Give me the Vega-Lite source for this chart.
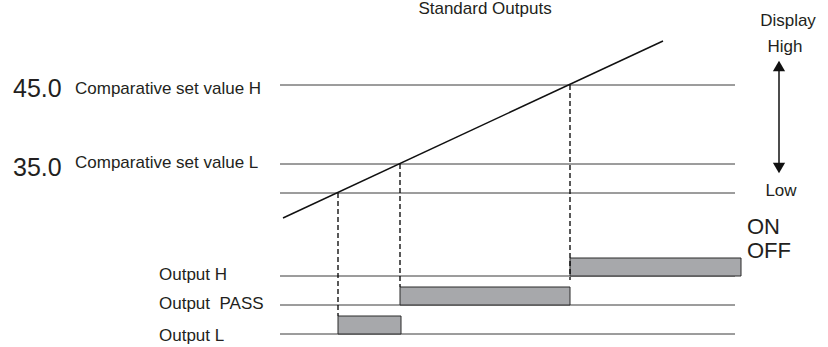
{
  "$schema": "https://vega.github.io/schema/vega-lite/v6.json",
  "width": 828,
  "height": 347,
  "autosize": {"type": "none"},
  "padding": 0,
  "background": "white",
  "config": {"view": {"stroke": null}, "text": {"font": "Liberation Sans", "color": "#231f20"}},
  "datasets": {
    "levels": [
      {"name": "Comparative set value H", "x1": 280, "x2": 735, "y": 85},
      {"name": "Comparative set value L", "x1": 280, "x2": 735, "y": 164},
      {"name": "Low threshold", "x1": 280, "x2": 735, "y": 193},
      {"name": "Output H", "x1": 280, "x2": 735, "y": 276},
      {"name": "Output PASS", "x1": 280, "x2": 735, "y": 305},
      {"name": "Output L", "x1": 280, "x2": 735, "y": 334}
    ],
    "display": [
      {"x": 283, "y": 218},
      {"x": 663, "y": 41}
    ],
    "crossings": [
      {"x": 338, "y1": 193, "y2": 316},
      {"x": 400, "y1": 164, "y2": 287},
      {"x": 570, "y1": 85, "y2": 280}
    ],
    "outputs": [
      {"output": "L", "x1": 338, "x2": 401, "y1": 316, "y2": 334},
      {"output": "PASS", "x1": 400, "x2": 570, "y1": 287, "y2": 305},
      {"output": "H", "x1": 570, "x2": 741, "y1": 258, "y2": 276}
    ],
    "arrow": [{"x": 779, "y1": 66, "y2": 169}],
    "heads": [
      {"x": 779, "y": 66, "dir": "up"},
      {"x": 779, "y": 168, "dir": "down"}
    ],
    "bigNums": [
      {"x": 13, "y": 97, "label": "45.0"},
      {"x": 13, "y": 176, "label": "35.0"}
    ],
    "leftLabels": [
      {"x": 75, "y": 94, "label": "Comparative set value H"},
      {"x": 75, "y": 168, "label": "Comparative set value L"},
      {"x": 159, "y": 280, "label": "Output H"},
      {"x": 159, "y": 309, "label": "Output\u00a0 PASS"},
      {"x": 159, "y": 341, "label": "Output L"}
    ],
    "centerLabels": [
      {"x": 485, "y": 14, "label": "Standard Outputs"},
      {"x": 788, "y": 26, "label": "Display"},
      {"x": 785, "y": 52, "label": "High"},
      {"x": 781, "y": 196, "label": "Low"}
    ],
    "onoff": [
      {"x": 747, "y": 234, "label": "ON"},
      {"x": 747, "y": 258, "label": "OFF"}
    ]
  },
  "layer": [
    {
      "data": {"name": "levels"},
      "mark": {"type": "rule", "color": "#3a3a3a", "strokeWidth": 1},
      "encoding": {
        "x": {"field": "x1", "type": "quantitative", "scale": {"domain": [0, 828], "nice": false, "zero": false}, "axis": null},
        "x2": {"field": "x2"},
        "y": {"field": "y", "type": "quantitative", "scale": {"domain": [0, 347], "nice": false, "reverse": true}, "axis": null}
      }
    },
    {
      "data": {"name": "outputs"},
      "mark": {"type": "rect", "fill": "#a7a8ab", "stroke": "#2a2a2a", "strokeWidth": 1},
      "encoding": {
        "x": {"field": "x1", "type": "quantitative"},
        "x2": {"field": "x2"},
        "y": {"field": "y1", "type": "quantitative"},
        "y2": {"field": "y2"}
      }
    },
    {
      "data": {"name": "crossings"},
      "mark": {"type": "rule", "color": "#000000", "strokeWidth": 1.3, "strokeDash": [5, 3]},
      "encoding": {
        "x": {"field": "x", "type": "quantitative"},
        "y": {"field": "y1", "type": "quantitative"},
        "y2": {"field": "y2"}
      }
    },
    {
      "data": {"name": "display"},
      "mark": {"type": "line", "color": "#111111", "strokeWidth": 1.5},
      "encoding": {
        "x": {"field": "x", "type": "quantitative"},
        "y": {"field": "y", "type": "quantitative"}
      }
    },
    {
      "data": {"name": "arrow"},
      "mark": {"type": "rule", "color": "#111111", "strokeWidth": 1.5},
      "encoding": {
        "x": {"field": "x", "type": "quantitative"},
        "y": {"field": "y1", "type": "quantitative"},
        "y2": {"field": "y2"}
      }
    },
    {
      "data": {"name": "heads"},
      "mark": {"type": "point", "filled": true, "color": "#111111", "size": 150, "opacity": 1},
      "encoding": {
        "x": {"field": "x", "type": "quantitative"},
        "y": {"field": "y", "type": "quantitative"},
        "shape": {"field": "dir", "type": "nominal", "scale": {"domain": ["up", "down"], "range": ["triangle-up", "triangle-down"]}, "legend": null}
      }
    },
    {
      "data": {"name": "bigNums"},
      "mark": {"type": "text", "fontSize": 25, "align": "left", "baseline": "alphabetic"},
      "encoding": {
        "x": {"field": "x", "type": "quantitative"},
        "y": {"field": "y", "type": "quantitative"},
        "text": {"field": "label"}
      }
    },
    {
      "data": {"name": "leftLabels"},
      "mark": {"type": "text", "fontSize": 17, "align": "left", "baseline": "alphabetic"},
      "encoding": {
        "x": {"field": "x", "type": "quantitative"},
        "y": {"field": "y", "type": "quantitative"},
        "text": {"field": "label"}
      }
    },
    {
      "data": {"name": "centerLabels"},
      "mark": {"type": "text", "fontSize": 17, "align": "center", "baseline": "alphabetic"},
      "encoding": {
        "x": {"field": "x", "type": "quantitative"},
        "y": {"field": "y", "type": "quantitative"},
        "text": {"field": "label"}
      }
    },
    {
      "data": {"name": "onoff"},
      "mark": {"type": "text", "fontSize": 22, "align": "left", "baseline": "alphabetic"},
      "encoding": {
        "x": {"field": "x", "type": "quantitative"},
        "y": {"field": "y", "type": "quantitative"},
        "text": {"field": "label"}
      }
    }
  ]
}
